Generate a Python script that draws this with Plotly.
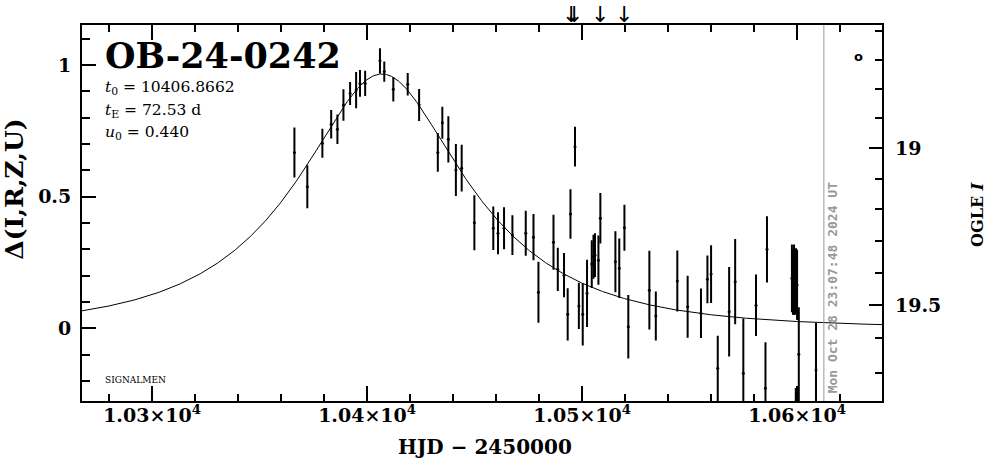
import numpy as np
import plotly.graph_objects as go

# ---- data (HJD-2450000, Delta mag, error) ----
hjd = [10366.2, 10372.2, 10379.2, 10383.3, 10386.2, 10389.0, 10392.1, 10394.9, 10396.7, 10399.1,
       10406.0, 10408.0, 10412.2, 10418.9, 10424.2, 10432.9, 10435.0, 10437.8, 10441.3, 10444.0,
       10449.9, 10458.7, 10460.9, 10463.7, 10467.6, 10473.8, 10477.4, 10479.7, 10486.7, 10488.7,
       10491.6, 10493.3, 10494.6, 10496.7, 10498.5, 10500.3, 10502.3, 10504.5, 10505.3, 10506.0,
       10507.6, 10508.5, 10515.5, 10517.3, 10519.7, 10521.5, 10531.3, 10534.3, 10544.3, 10549.1,
       10555.3, 10558.3, 10560.0, 10563.1, 10568.4, 10571.2, 10575.0, 10580.9, 10585.3, 10586.0,
       10597.6, 10598.1, 10598.6, 10599.0, 10599.5, 10600.0, 10599.4, 10600.8, 10608.8]
delta = [0.668, 0.538, 0.703, 0.775, 0.756, 0.848, 0.892, 0.905, 0.930, 0.930,
         1.016, 0.975, 0.908, 0.927, 0.848, 0.668, 0.781, 0.718, 0.601, 0.608,
         0.401, 0.380, 0.361, 0.380, 0.354, 0.361, 0.346, 0.137, 0.327, 0.224,
         0.202, 0.053, 0.434, 0.690, 0.085, 0.053, 0.133, 0.244, 0.272, 0.278,
         0.259, 0.418, 0.253, 0.228, 0.382, 0.006, 0.145, 0.047, 0.180, 0.082,
         0.057, 0.186, 0.206, -0.152, 0.063, 0.177, -0.171, 0.088, -0.228, 0.300,
         0.190, 0.175, 0.185, 0.170, 0.180, 0.165, -0.360, -0.098, -0.158]
err = [0.091, 0.078, 0.051, 0.050, 0.052, 0.056, 0.040, 0.065, 0.047, 0.044,
       0.044, 0.035, 0.043, 0.039, 0.057, 0.070, 0.057, 0.084, 0.095, 0.085,
       0.101, 0.079, 0.076, 0.076, 0.072, 0.082, 0.084, 0.112, 0.101, 0.078,
       0.080, 0.095, 0.090, 0.072, 0.084, 0.114, 0.124, 0.087, 0.080, 0.079,
       0.090, 0.092, 0.112, 0.109, 0.084, 0.117, 0.146, 0.089, 0.112, 0.114,
       0.090, 0.087, 0.106, 0.120, 0.166, 0.158, 0.205, 0.113, 0.171, 0.122,
       0.125, 0.120, 0.130, 0.115, 0.120, 0.130, 0.130, 0.174, 0.174]

# model parameters
t0 = 10406.8662
tE = 72.53
u0 = 0.440

# axis ticks
x_tickvals = [10300, 10400, 10500, 10600]
x_ticktext = ["1.03×10<sup>4</sup>", "1.04×10<sup>4</sup>", "1.05×10<sup>4</sup>", "1.06×10<sup>4</sup>"]
mag_major = [19.0, 19.5]
mag_major_text = ["19", "19.5"]
mag_minor = [18.6, 18.7, 18.8, 18.9, 19.1, 19.2, 19.3, 19.4, 19.6, 19.7]
arrow_hjd = [10494.9, 10496.3, 10508.4, 10519.5]
now_hjd = 10612.46
now_text = "Mon Oct 28 23:07:48 2024 UT"

# mapping OGLE I magnitude -> Delta (blended)
fs, mbase = 0.7875, 19.570
def mag_to_delta(m):
    A = (10 ** (-0.4 * (m - mbase)) - (1 - fs)) / fs
    return 2.5 * np.log10(A)

xr = [10267.4, 10639.5]
yr = [-0.276, 1.152]

tt = np.linspace(xr[0], xr[1], 800)
u = np.sqrt(u0 ** 2 + ((tt - t0) / tE) ** 2)
A = (u ** 2 + 2) / (u * np.sqrt(u ** 2 + 4))
model = 2.5 * np.log10(A)

fig = go.Figure()
fig.add_trace(go.Scatter(x=tt, y=model, mode="lines", line=dict(color="black", width=1),
                         hoverinfo="skip", showlegend=False))
fig.add_trace(go.Scatter(x=hjd, y=delta, mode="markers",
                         marker=dict(color="black", size=3),
                         error_y=dict(type="data", array=err, color="black", thickness=2, width=1),
                         showlegend=False))
# dummy traces for secondary axes
fig.add_trace(go.Scatter(x=[xr[0]], y=[0], yaxis="y2", mode="markers", marker=dict(opacity=0),
                         showlegend=False, hoverinfo="skip"))
fig.add_trace(go.Scatter(x=[xr[0]], y=[0], yaxis="y3", mode="markers", marker=dict(opacity=0),
                         showlegend=False, hoverinfo="skip"))

tickfont = dict(family="DejaVu Serif", size=19, color="black", weight="bold")
fig.update_layout(
    width=986, height=459,
    margin=dict(l=82, r=104, t=25, b=58),
    paper_bgcolor="white", plot_bgcolor="white",
    xaxis=dict(range=xr, tickvals=x_tickvals, ticktext=x_ticktext, ticks="inside", ticklen=15,
               tickwidth=2, tickcolor="black", showline=True, linewidth=2, linecolor="black",
               mirror="ticks", showgrid=False, zeroline=False, tickfont=tickfont,
               ticklabelstandoff=-4,
               minor=dict(dtick=20, tick0=10300, ticks="inside", ticklen=7, tickwidth=2,
                          tickcolor="black", showgrid=False)),
    yaxis=dict(range=yr, tickvals=[0, 0.5, 1], ticktext=["0", "0.5", "1"], ticks="inside",
               ticklen=14, tickwidth=2, tickcolor="black", showline=True, linewidth=2,
               linecolor="black", mirror=True, showgrid=False, zeroline=False, tickfont=tickfont,
               ticklabelstandoff=5,
               minor=dict(tickvals=[round(v, 1) for v in np.arange(-0.2, 1.15, 0.1)],
                          ticks="inside", ticklen=8, tickwidth=2, tickcolor="black",
                          showgrid=False)),
    yaxis2=dict(range=yr, overlaying="y", side="right", anchor="x",
                tickvals=[mag_to_delta(m) for m in mag_major], ticktext=mag_major_text,
                ticks="inside", ticklen=13, tickwidth=2, tickcolor="black", showgrid=False,
                zeroline=False, showline=False, tickfont=tickfont, ticklabelstandoff=12),
    yaxis3=dict(range=yr, overlaying="y", side="right", anchor="x",
                tickvals=[mag_to_delta(m) for m in mag_minor], showticklabels=False,
                ticks="inside", ticklen=7, tickwidth=2, tickcolor="black", showgrid=False,
                zeroline=False, showline=False),
    showlegend=False,
)

fig.add_shape(type="line", x0=now_hjd, x1=now_hjd, y0=0, y1=1, xref="x", yref="paper",
              line=dict(color="#999999", width=1))

ann = []
ann.append(dict(text="<b>OB-24-0242</b>", x=0.026, y=0.9176, xref="paper", yref="paper",
                xanchor="left", yanchor="middle", showarrow=False,
                font=dict(family="DejaVu Serif", size=35, color="black")))
param_lines = ["<i>t</i><sub>0</sub> = %.4f" % t0,
               "<i>t</i><sub>E</sub> = %.2f d" % tE,
               "<i>u</i><sub>0</sub> = %.3f" % u0]
for i, s in enumerate(param_lines):
    ann.append(dict(text=s, x=0.026, y=(401 - (88 + 22.5 * i)) / 376, xref="paper", yref="paper",
                    xanchor="left", yanchor="middle", showarrow=False,
                    font=dict(family="DejaVu Serif", size=15.5, color="black")))
ann.append(dict(text="SIGNALMEN", x=0.026, y=0.056, xref="paper", yref="paper", xanchor="left",
                yanchor="middle", showarrow=False,
                font=dict(family="DejaVu Serif", size=9, color="black")))
ann.append(dict(text="<b>o</b>", x=10628.4, y=0.941, xref="x", yref="paper", showarrow=False,
                font=dict(family="DejaVu Sans", size=13, color="black")))
ann.append(dict(text="<b>" + now_text + "</b>", x=now_hjd, xshift=9, y=0.016, xref="x",
                yref="paper", xanchor="center", yanchor="bottom", textangle=-90, showarrow=False,
                font=dict(family="DejaVu Sans Mono", size=13, color="#999999")))
for h in arrow_hjd:
    ann.append(dict(text="↓", x=h, y=1.0665, xref="x", yref="paper", xanchor="center",
                    yanchor="top", showarrow=False,
                    font=dict(family="DejaVu Sans", size=22, color="black")))
ann.append(dict(text="<b>HJD − 2450000</b>", x=0.504, y=-0.122, xref="paper", yref="paper",
                xanchor="center", yanchor="middle", showarrow=False,
                font=dict(family="DejaVu Serif", size=20, color="black")))
ann.append(dict(text="<b>Δ(I,R,Z,U)</b>", x=-0.084, y=0.564, xref="paper", yref="paper",
                xanchor="center", yanchor="middle", textangle=-90, showarrow=False,
                font=dict(family="DejaVu Serif", size=25, color="black")))
ann.append(dict(text="<b>OGLE <i>I</i></b>", x=1.1185, y=0.497, xref="paper", yref="paper",
                xanchor="center", yanchor="middle", textangle=-90, showarrow=False,
                font=dict(family="DejaVu Serif", size=16, color="black")))
fig.update_layout(annotations=ann)

fig.write_html("out.html", config={"displayModeBar": False},
               post_script="document.body.style.margin='0px';")
